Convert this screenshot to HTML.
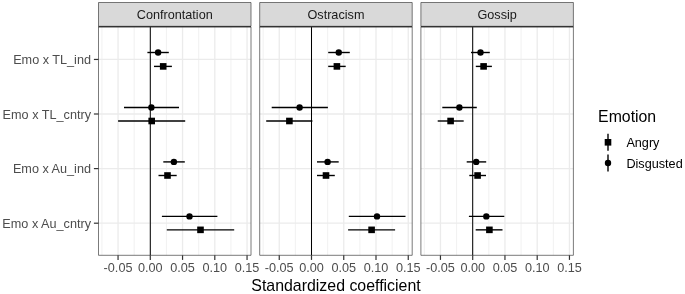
<!DOCTYPE html>
<html><head><meta charset="utf-8"><style>
html,body{margin:0;padding:0;background:#fff;width:685px;height:294px;overflow:hidden}
svg{display:block;font-family:"Liberation Sans",sans-serif;filter:blur(0.45px)}
</style></head><body>
<svg width="685" height="294" viewBox="0 0 685 294">
<rect width="685" height="294" fill="#fff"/>
<rect x="98.5" y="26.9" width="152.5" height="228.4" fill="#fff"/>
<line x1="101.93" y1="26.9" x2="101.93" y2="255.3" stroke="#EBEBEB" stroke-width="0.7"/>
<line x1="134.18" y1="26.9" x2="134.18" y2="255.3" stroke="#EBEBEB" stroke-width="0.7"/>
<line x1="166.43" y1="26.9" x2="166.43" y2="255.3" stroke="#EBEBEB" stroke-width="0.7"/>
<line x1="198.68" y1="26.9" x2="198.68" y2="255.3" stroke="#EBEBEB" stroke-width="0.7"/>
<line x1="230.93" y1="26.9" x2="230.93" y2="255.3" stroke="#EBEBEB" stroke-width="0.7"/>
<line x1="118.05" y1="26.9" x2="118.05" y2="255.3" stroke="#EBEBEB" stroke-width="1.3"/>
<line x1="150.3" y1="26.9" x2="150.3" y2="255.3" stroke="#EBEBEB" stroke-width="1.3"/>
<line x1="182.55" y1="26.9" x2="182.55" y2="255.3" stroke="#EBEBEB" stroke-width="1.3"/>
<line x1="214.8" y1="26.9" x2="214.8" y2="255.3" stroke="#EBEBEB" stroke-width="1.3"/>
<line x1="247.05" y1="26.9" x2="247.05" y2="255.3" stroke="#EBEBEB" stroke-width="1.3"/>
<line x1="98.5" y1="59.45" x2="251" y2="59.45" stroke="#EBEBEB" stroke-width="1.3"/>
<line x1="98.5" y1="114" x2="251" y2="114" stroke="#EBEBEB" stroke-width="1.3"/>
<line x1="98.5" y1="168.6" x2="251" y2="168.6" stroke="#EBEBEB" stroke-width="1.3"/>
<line x1="98.5" y1="223.2" x2="251" y2="223.2" stroke="#EBEBEB" stroke-width="1.3"/>
<line x1="150.3" y1="26.9" x2="150.3" y2="255.3" stroke="#000" stroke-width="1.0"/>
<line x1="147.4" y1="52.5" x2="168.8" y2="52.5" stroke="#000" stroke-width="1.4"/>
<circle cx="158.1" cy="52.5" r="3.2" fill="#000"/>
<line x1="154" y1="66.4" x2="171.9" y2="66.4" stroke="#000" stroke-width="1.4"/>
<rect x="159.9" y="63.1" width="6.6" height="6.6" fill="#000"/>
<line x1="124" y1="107.5" x2="179" y2="107.5" stroke="#000" stroke-width="1.4"/>
<circle cx="151.4" cy="107.5" r="3.2" fill="#000"/>
<line x1="118.1" y1="121" x2="185.2" y2="121" stroke="#000" stroke-width="1.4"/>
<rect x="148.4" y="117.7" width="6.6" height="6.6" fill="#000"/>
<line x1="163.3" y1="161.9" x2="184.8" y2="161.9" stroke="#000" stroke-width="1.4"/>
<circle cx="173.9" cy="161.9" r="3.2" fill="#000"/>
<line x1="158.5" y1="175.5" x2="176.7" y2="175.5" stroke="#000" stroke-width="1.4"/>
<rect x="164.2" y="172.2" width="6.6" height="6.6" fill="#000"/>
<line x1="161.9" y1="216.4" x2="217.4" y2="216.4" stroke="#000" stroke-width="1.4"/>
<circle cx="189.5" cy="216.4" r="3.2" fill="#000"/>
<line x1="166.8" y1="229.85" x2="234.2" y2="229.85" stroke="#000" stroke-width="1.4"/>
<rect x="197.2" y="226.55" width="6.6" height="6.6" fill="#000"/>
<rect x="98.5" y="26.9" width="152.5" height="228.4" fill="none" stroke="#333" stroke-width="0.65" stroke-linejoin="round"/>
<rect x="98.5" y="2.5" width="152.5" height="23.8" fill="#D9D9D9" stroke="#333" stroke-width="0.65" stroke-linejoin="round"/>
<line x1="98.5" y1="26.6" x2="251" y2="26.6" stroke="#333" stroke-width="1.3"/>
<text x="174.75" y="18.7" text-anchor="middle" font-size="12.67" fill="#1A1A1A">Confrontation</text>
<line x1="118.05" y1="255.3" x2="118.05" y2="259.9" stroke="#333" stroke-width="1.2"/>
<text x="118.05" y="272.3" text-anchor="middle" font-size="12.67" fill="#4D4D4D">-0.05</text>
<line x1="150.3" y1="255.3" x2="150.3" y2="259.9" stroke="#333" stroke-width="1.2"/>
<text x="150.3" y="272.3" text-anchor="middle" font-size="12.67" fill="#4D4D4D">0.00</text>
<line x1="182.55" y1="255.3" x2="182.55" y2="259.9" stroke="#333" stroke-width="1.2"/>
<text x="182.55" y="272.3" text-anchor="middle" font-size="12.67" fill="#4D4D4D">0.05</text>
<line x1="214.8" y1="255.3" x2="214.8" y2="259.9" stroke="#333" stroke-width="1.2"/>
<text x="214.8" y="272.3" text-anchor="middle" font-size="12.67" fill="#4D4D4D">0.10</text>
<line x1="247.05" y1="255.3" x2="247.05" y2="259.9" stroke="#333" stroke-width="1.2"/>
<text x="247.05" y="272.3" text-anchor="middle" font-size="12.67" fill="#4D4D4D">0.15</text>
<rect x="259.7" y="26.9" width="152.5" height="228.4" fill="#fff"/>
<line x1="263.12" y1="26.9" x2="263.12" y2="255.3" stroke="#EBEBEB" stroke-width="0.7"/>
<line x1="295.38" y1="26.9" x2="295.38" y2="255.3" stroke="#EBEBEB" stroke-width="0.7"/>
<line x1="327.62" y1="26.9" x2="327.62" y2="255.3" stroke="#EBEBEB" stroke-width="0.7"/>
<line x1="359.88" y1="26.9" x2="359.88" y2="255.3" stroke="#EBEBEB" stroke-width="0.7"/>
<line x1="392.12" y1="26.9" x2="392.12" y2="255.3" stroke="#EBEBEB" stroke-width="0.7"/>
<line x1="279.25" y1="26.9" x2="279.25" y2="255.3" stroke="#EBEBEB" stroke-width="1.3"/>
<line x1="311.5" y1="26.9" x2="311.5" y2="255.3" stroke="#EBEBEB" stroke-width="1.3"/>
<line x1="343.75" y1="26.9" x2="343.75" y2="255.3" stroke="#EBEBEB" stroke-width="1.3"/>
<line x1="376" y1="26.9" x2="376" y2="255.3" stroke="#EBEBEB" stroke-width="1.3"/>
<line x1="408.25" y1="26.9" x2="408.25" y2="255.3" stroke="#EBEBEB" stroke-width="1.3"/>
<line x1="259.7" y1="59.45" x2="412.2" y2="59.45" stroke="#EBEBEB" stroke-width="1.3"/>
<line x1="259.7" y1="114" x2="412.2" y2="114" stroke="#EBEBEB" stroke-width="1.3"/>
<line x1="259.7" y1="168.6" x2="412.2" y2="168.6" stroke="#EBEBEB" stroke-width="1.3"/>
<line x1="259.7" y1="223.2" x2="412.2" y2="223.2" stroke="#EBEBEB" stroke-width="1.3"/>
<line x1="311.5" y1="26.9" x2="311.5" y2="255.3" stroke="#000" stroke-width="1.0"/>
<line x1="328.2" y1="52.5" x2="349.8" y2="52.5" stroke="#000" stroke-width="1.4"/>
<circle cx="338.75" cy="52.5" r="3.2" fill="#000"/>
<line x1="328.2" y1="66.4" x2="345.7" y2="66.4" stroke="#000" stroke-width="1.4"/>
<rect x="333.6" y="63.1" width="6.6" height="6.6" fill="#000"/>
<line x1="271.7" y1="107.5" x2="327.9" y2="107.5" stroke="#000" stroke-width="1.4"/>
<circle cx="299.6" cy="107.5" r="3.2" fill="#000"/>
<line x1="266.2" y1="121" x2="312.4" y2="121" stroke="#000" stroke-width="1.4"/>
<rect x="286.1" y="117.7" width="6.6" height="6.6" fill="#000"/>
<line x1="317" y1="161.9" x2="338.7" y2="161.9" stroke="#000" stroke-width="1.4"/>
<circle cx="327.6" cy="161.9" r="3.2" fill="#000"/>
<line x1="317" y1="175.5" x2="334.8" y2="175.5" stroke="#000" stroke-width="1.4"/>
<rect x="322.7" y="172.2" width="6.6" height="6.6" fill="#000"/>
<line x1="348.8" y1="216.4" x2="405.5" y2="216.4" stroke="#000" stroke-width="1.4"/>
<circle cx="377" cy="216.4" r="3.2" fill="#000"/>
<line x1="348.1" y1="229.85" x2="395.1" y2="229.85" stroke="#000" stroke-width="1.4"/>
<rect x="368.3" y="226.55" width="6.6" height="6.6" fill="#000"/>
<rect x="259.7" y="26.9" width="152.5" height="228.4" fill="none" stroke="#333" stroke-width="0.65" stroke-linejoin="round"/>
<rect x="259.7" y="2.5" width="152.5" height="23.8" fill="#D9D9D9" stroke="#333" stroke-width="0.65" stroke-linejoin="round"/>
<line x1="259.7" y1="26.6" x2="412.2" y2="26.6" stroke="#333" stroke-width="1.3"/>
<text x="335.95" y="18.7" text-anchor="middle" font-size="12.67" fill="#1A1A1A">Ostracism</text>
<line x1="279.25" y1="255.3" x2="279.25" y2="259.9" stroke="#333" stroke-width="1.2"/>
<text x="279.25" y="272.3" text-anchor="middle" font-size="12.67" fill="#4D4D4D">-0.05</text>
<line x1="311.5" y1="255.3" x2="311.5" y2="259.9" stroke="#333" stroke-width="1.2"/>
<text x="311.5" y="272.3" text-anchor="middle" font-size="12.67" fill="#4D4D4D">0.00</text>
<line x1="343.75" y1="255.3" x2="343.75" y2="259.9" stroke="#333" stroke-width="1.2"/>
<text x="343.75" y="272.3" text-anchor="middle" font-size="12.67" fill="#4D4D4D">0.05</text>
<line x1="376" y1="255.3" x2="376" y2="259.9" stroke="#333" stroke-width="1.2"/>
<text x="376" y="272.3" text-anchor="middle" font-size="12.67" fill="#4D4D4D">0.10</text>
<line x1="408.25" y1="255.3" x2="408.25" y2="259.9" stroke="#333" stroke-width="1.2"/>
<text x="408.25" y="272.3" text-anchor="middle" font-size="12.67" fill="#4D4D4D">0.15</text>
<rect x="420.9" y="26.9" width="152.5" height="228.4" fill="#fff"/>
<line x1="424.32" y1="26.9" x2="424.32" y2="255.3" stroke="#EBEBEB" stroke-width="0.7"/>
<line x1="456.57" y1="26.9" x2="456.57" y2="255.3" stroke="#EBEBEB" stroke-width="0.7"/>
<line x1="488.82" y1="26.9" x2="488.82" y2="255.3" stroke="#EBEBEB" stroke-width="0.7"/>
<line x1="521.08" y1="26.9" x2="521.08" y2="255.3" stroke="#EBEBEB" stroke-width="0.7"/>
<line x1="553.33" y1="26.9" x2="553.33" y2="255.3" stroke="#EBEBEB" stroke-width="0.7"/>
<line x1="440.45" y1="26.9" x2="440.45" y2="255.3" stroke="#EBEBEB" stroke-width="1.3"/>
<line x1="472.7" y1="26.9" x2="472.7" y2="255.3" stroke="#EBEBEB" stroke-width="1.3"/>
<line x1="504.95" y1="26.9" x2="504.95" y2="255.3" stroke="#EBEBEB" stroke-width="1.3"/>
<line x1="537.2" y1="26.9" x2="537.2" y2="255.3" stroke="#EBEBEB" stroke-width="1.3"/>
<line x1="569.45" y1="26.9" x2="569.45" y2="255.3" stroke="#EBEBEB" stroke-width="1.3"/>
<line x1="420.9" y1="59.45" x2="573.4" y2="59.45" stroke="#EBEBEB" stroke-width="1.3"/>
<line x1="420.9" y1="114" x2="573.4" y2="114" stroke="#EBEBEB" stroke-width="1.3"/>
<line x1="420.9" y1="168.6" x2="573.4" y2="168.6" stroke="#EBEBEB" stroke-width="1.3"/>
<line x1="420.9" y1="223.2" x2="573.4" y2="223.2" stroke="#EBEBEB" stroke-width="1.3"/>
<line x1="472.7" y1="26.9" x2="472.7" y2="255.3" stroke="#000" stroke-width="1.0"/>
<line x1="471" y1="52.5" x2="489.8" y2="52.5" stroke="#000" stroke-width="1.4"/>
<circle cx="480.5" cy="52.5" r="3.2" fill="#000"/>
<line x1="475.8" y1="66.4" x2="491.9" y2="66.4" stroke="#000" stroke-width="1.4"/>
<rect x="480.3" y="63.1" width="6.6" height="6.6" fill="#000"/>
<line x1="442.3" y1="107.5" x2="476.8" y2="107.5" stroke="#000" stroke-width="1.4"/>
<circle cx="459.4" cy="107.5" r="3.2" fill="#000"/>
<line x1="437.7" y1="121" x2="463.7" y2="121" stroke="#000" stroke-width="1.4"/>
<rect x="447.3" y="117.7" width="6.6" height="6.6" fill="#000"/>
<line x1="466.7" y1="161.9" x2="486.2" y2="161.9" stroke="#000" stroke-width="1.4"/>
<circle cx="476.2" cy="161.9" r="3.2" fill="#000"/>
<line x1="469.3" y1="175.5" x2="486" y2="175.5" stroke="#000" stroke-width="1.4"/>
<rect x="474.3" y="172.2" width="6.6" height="6.6" fill="#000"/>
<line x1="468.9" y1="216.4" x2="504.3" y2="216.4" stroke="#000" stroke-width="1.4"/>
<circle cx="486.3" cy="216.4" r="3.2" fill="#000"/>
<line x1="475.7" y1="229.85" x2="502.5" y2="229.85" stroke="#000" stroke-width="1.4"/>
<rect x="486.1" y="226.55" width="6.6" height="6.6" fill="#000"/>
<rect x="420.9" y="26.9" width="152.5" height="228.4" fill="none" stroke="#333" stroke-width="0.65" stroke-linejoin="round"/>
<rect x="420.9" y="2.5" width="152.5" height="23.8" fill="#D9D9D9" stroke="#333" stroke-width="0.65" stroke-linejoin="round"/>
<line x1="420.9" y1="26.6" x2="573.4" y2="26.6" stroke="#333" stroke-width="1.3"/>
<text x="497.15" y="18.7" text-anchor="middle" font-size="12.67" fill="#1A1A1A">Gossip</text>
<line x1="440.45" y1="255.3" x2="440.45" y2="259.9" stroke="#333" stroke-width="1.2"/>
<text x="440.45" y="272.3" text-anchor="middle" font-size="12.67" fill="#4D4D4D">-0.05</text>
<line x1="472.7" y1="255.3" x2="472.7" y2="259.9" stroke="#333" stroke-width="1.2"/>
<text x="472.7" y="272.3" text-anchor="middle" font-size="12.67" fill="#4D4D4D">0.00</text>
<line x1="504.95" y1="255.3" x2="504.95" y2="259.9" stroke="#333" stroke-width="1.2"/>
<text x="504.95" y="272.3" text-anchor="middle" font-size="12.67" fill="#4D4D4D">0.05</text>
<line x1="537.2" y1="255.3" x2="537.2" y2="259.9" stroke="#333" stroke-width="1.2"/>
<text x="537.2" y="272.3" text-anchor="middle" font-size="12.67" fill="#4D4D4D">0.10</text>
<line x1="569.45" y1="255.3" x2="569.45" y2="259.9" stroke="#333" stroke-width="1.2"/>
<text x="569.45" y="272.3" text-anchor="middle" font-size="12.67" fill="#4D4D4D">0.15</text>
<line x1="93.9" y1="59.45" x2="98.5" y2="59.45" stroke="#333" stroke-width="1.2"/>
<text x="91" y="64.3" text-anchor="end" font-size="12.67" fill="#4D4D4D">Emo x TL_ind</text>
<line x1="93.9" y1="114" x2="98.5" y2="114" stroke="#333" stroke-width="1.2"/>
<text x="91" y="118.85" text-anchor="end" font-size="12.67" fill="#4D4D4D">Emo x TL_cntry</text>
<line x1="93.9" y1="168.6" x2="98.5" y2="168.6" stroke="#333" stroke-width="1.2"/>
<text x="91" y="173.45" text-anchor="end" font-size="12.67" fill="#4D4D4D">Emo x Au_ind</text>
<line x1="93.9" y1="223.2" x2="98.5" y2="223.2" stroke="#333" stroke-width="1.2"/>
<text x="91" y="228.05" text-anchor="end" font-size="12.67" fill="#4D4D4D">Emo x Au_cntry</text>
<text x="336" y="290.8" text-anchor="middle" font-size="15.9" fill="#000">Standardized coefficient</text>
<text x="598.1" y="122.1" font-size="15.84" fill="#000">Emotion</text>
<line x1="608" y1="133.8" x2="608" y2="150.8" stroke="#000" stroke-width="1.4"/>
<rect x="604.7" y="139" width="6.6" height="6.6" fill="#000"/>
<text x="626.4" y="147" font-size="12.67" fill="#000">Angry</text>
<line x1="608" y1="154.5" x2="608" y2="171.5" stroke="#000" stroke-width="1.4"/>
<circle cx="608" cy="163" r="3.2" fill="#000"/>
<text x="626.4" y="167.7" font-size="12.67" fill="#000">Disgusted</text>
</svg>
</body></html>
